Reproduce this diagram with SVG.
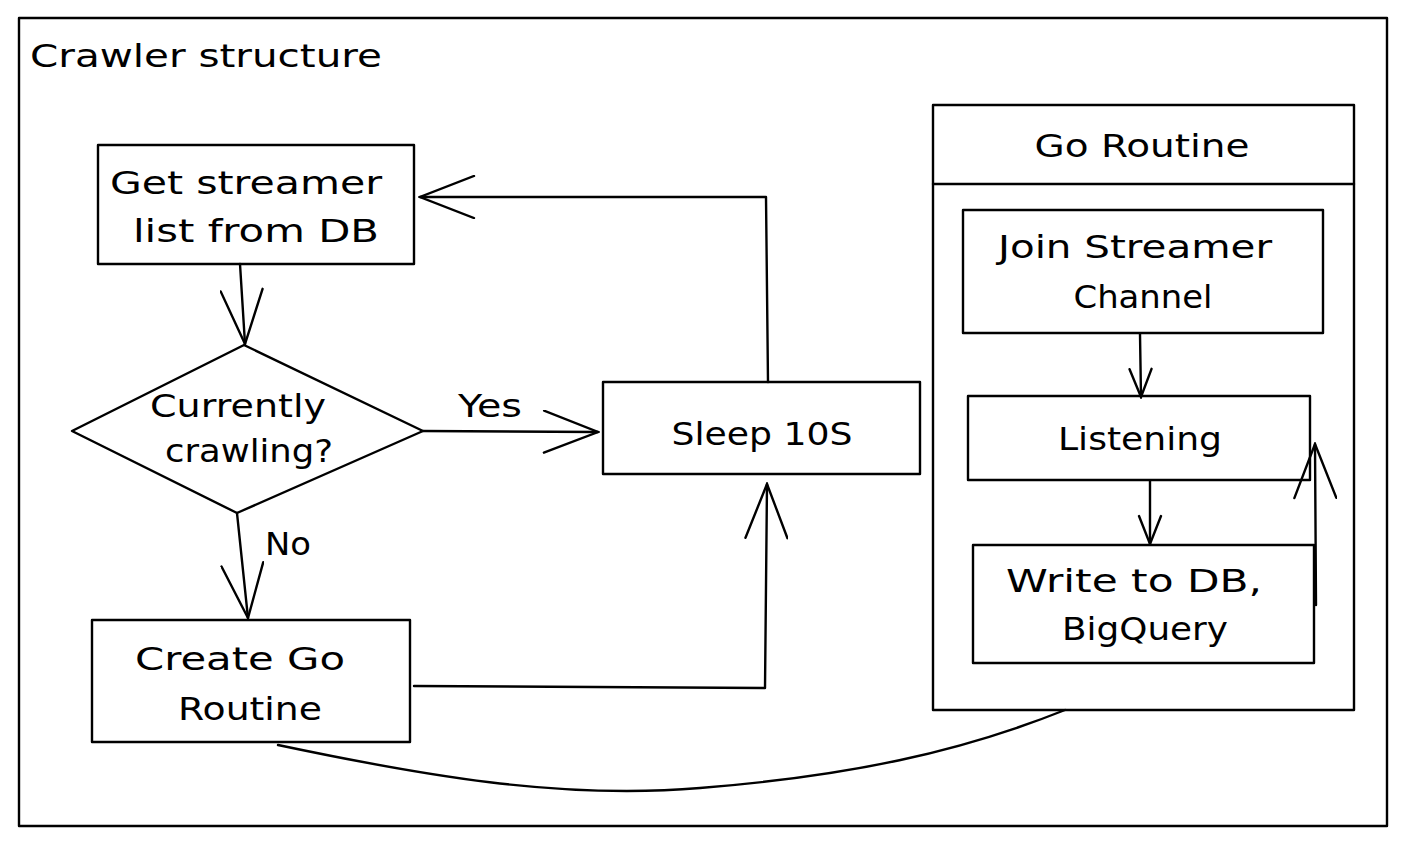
<svg xmlns="http://www.w3.org/2000/svg" width="1406" height="844" viewBox="0 0 1406 844">
<style>
.s{fill:none;stroke:#000;stroke-width:2.4;stroke-linejoin:round;stroke-linecap:round}
.w{fill:#fff;stroke:#000;stroke-width:2.4;stroke-linejoin:round}
.t{font-family:"DejaVu Sans","Liberation Sans",sans-serif;font-size:32px;fill:#000;text-anchor:middle}
</style>
<defs>
<marker id="big" viewBox="0 0 58 44" refX="56" refY="22" markerWidth="58" markerHeight="44" markerUnits="userSpaceOnUse" orient="auto">
<path d="M2,1 L56,22 L2,43" fill="none" stroke="#000" stroke-width="2.4" stroke-linecap="round"/>
</marker>
<marker id="small" viewBox="0 0 32 26" refX="30" refY="13" markerWidth="32" markerHeight="26" markerUnits="userSpaceOnUse" orient="auto">
<path d="M2,2 L30,13 L2,24" fill="none" stroke="#000" stroke-width="2.4" stroke-linecap="round"/>
</marker>
</defs>
<rect width="1406" height="844" fill="#fff"/>
<g id="frame">
<rect x="19" y="18" width="1368" height="808" class="s"/>
<text x="206" y="67" class="t" textLength="352" lengthAdjust="spacingAndGlyphs">Crawler structure</text>
</g>
<g id="get-list">
<rect x="98" y="145" width="316" height="119" class="w"/>
<text x="246" y="194" class="t" textLength="272" lengthAdjust="spacingAndGlyphs">Get streamer</text>
<text x="256" y="242" class="t" textLength="246" lengthAdjust="spacingAndGlyphs">list from DB</text>
</g>
<g id="decision">
<polygon points="72,431 244,345 423,431 237,513" class="w"/>
<text x="238" y="417" class="t" textLength="176" lengthAdjust="spacingAndGlyphs">Currently</text>
<text x="249" y="462" class="t" textLength="168" lengthAdjust="spacingAndGlyphs">crawling?</text>
</g>
<g id="sleep">
<rect x="603" y="382" width="317" height="92" class="w"/>
<text x="762" y="445" class="t" textLength="181" lengthAdjust="spacingAndGlyphs">Sleep 10S</text>
</g>
<g id="create">
<rect x="92" y="620" width="318" height="122" class="w"/>
<text x="240" y="670" class="t" textLength="210" lengthAdjust="spacingAndGlyphs">Create Go</text>
<text x="250" y="720" class="t" textLength="144" lengthAdjust="spacingAndGlyphs">Routine</text>
</g>
<g id="go-routine">
<rect x="933" y="105" width="421" height="605" class="s"/>
<line x1="933" y1="184" x2="1354" y2="184" class="s"/>
<text x="1142" y="157" class="t" textLength="215" lengthAdjust="spacingAndGlyphs">Go Routine</text>
</g>
<g id="join">
<rect x="963" y="210" width="360" height="123" class="w"/>
<text x="1135" y="258" class="t" textLength="274" lengthAdjust="spacingAndGlyphs">Join Streamer</text>
<text x="1143" y="308" class="t" textLength="139" lengthAdjust="spacingAndGlyphs">Channel</text>
</g>
<g id="listening">
<rect x="968" y="396" width="342" height="84" class="w"/>
<text x="1140" y="450" class="t" textLength="164" lengthAdjust="spacingAndGlyphs">Listening</text>
</g>
<g id="write">
<rect x="973" y="545" width="341" height="118" class="w"/>
<text x="1134" y="592" class="t" textLength="256" lengthAdjust="spacingAndGlyphs">Write to DB,</text>
<text x="1145" y="640" class="t" textLength="166" lengthAdjust="spacingAndGlyphs">BigQuery</text>
</g>
<g id="connectors">
<path d="M240,264 L245,344" class="s" marker-end="url(#big)"/>
<path d="M423,431 L598,432" class="s" marker-end="url(#big)"/>
<text x="490" y="417" class="t" textLength="64" lengthAdjust="spacingAndGlyphs">Yes</text>
<path d="M768,382 L766,197 L420,197" class="s" marker-end="url(#big)"/>
<path d="M237,513 L248,618" class="s" marker-end="url(#big)"/>
<text x="288" y="555" class="t" textLength="46" lengthAdjust="spacingAndGlyphs">No</text>
<path d="M414,686 L765,688 L767,484" class="s" marker-end="url(#big)"/>
<path d="M1140,334 L1141,397" class="s" marker-end="url(#small)"/>
<path d="M1150,481 L1150,544" class="s" marker-end="url(#small)"/>
<path d="M1316,605 L1315,444" class="s" marker-end="url(#big)"/>
<path d="M278,745 C420,775 560,800 700,788 C850,776 960,752 1065,710" class="s"/>
</g>
</svg>
